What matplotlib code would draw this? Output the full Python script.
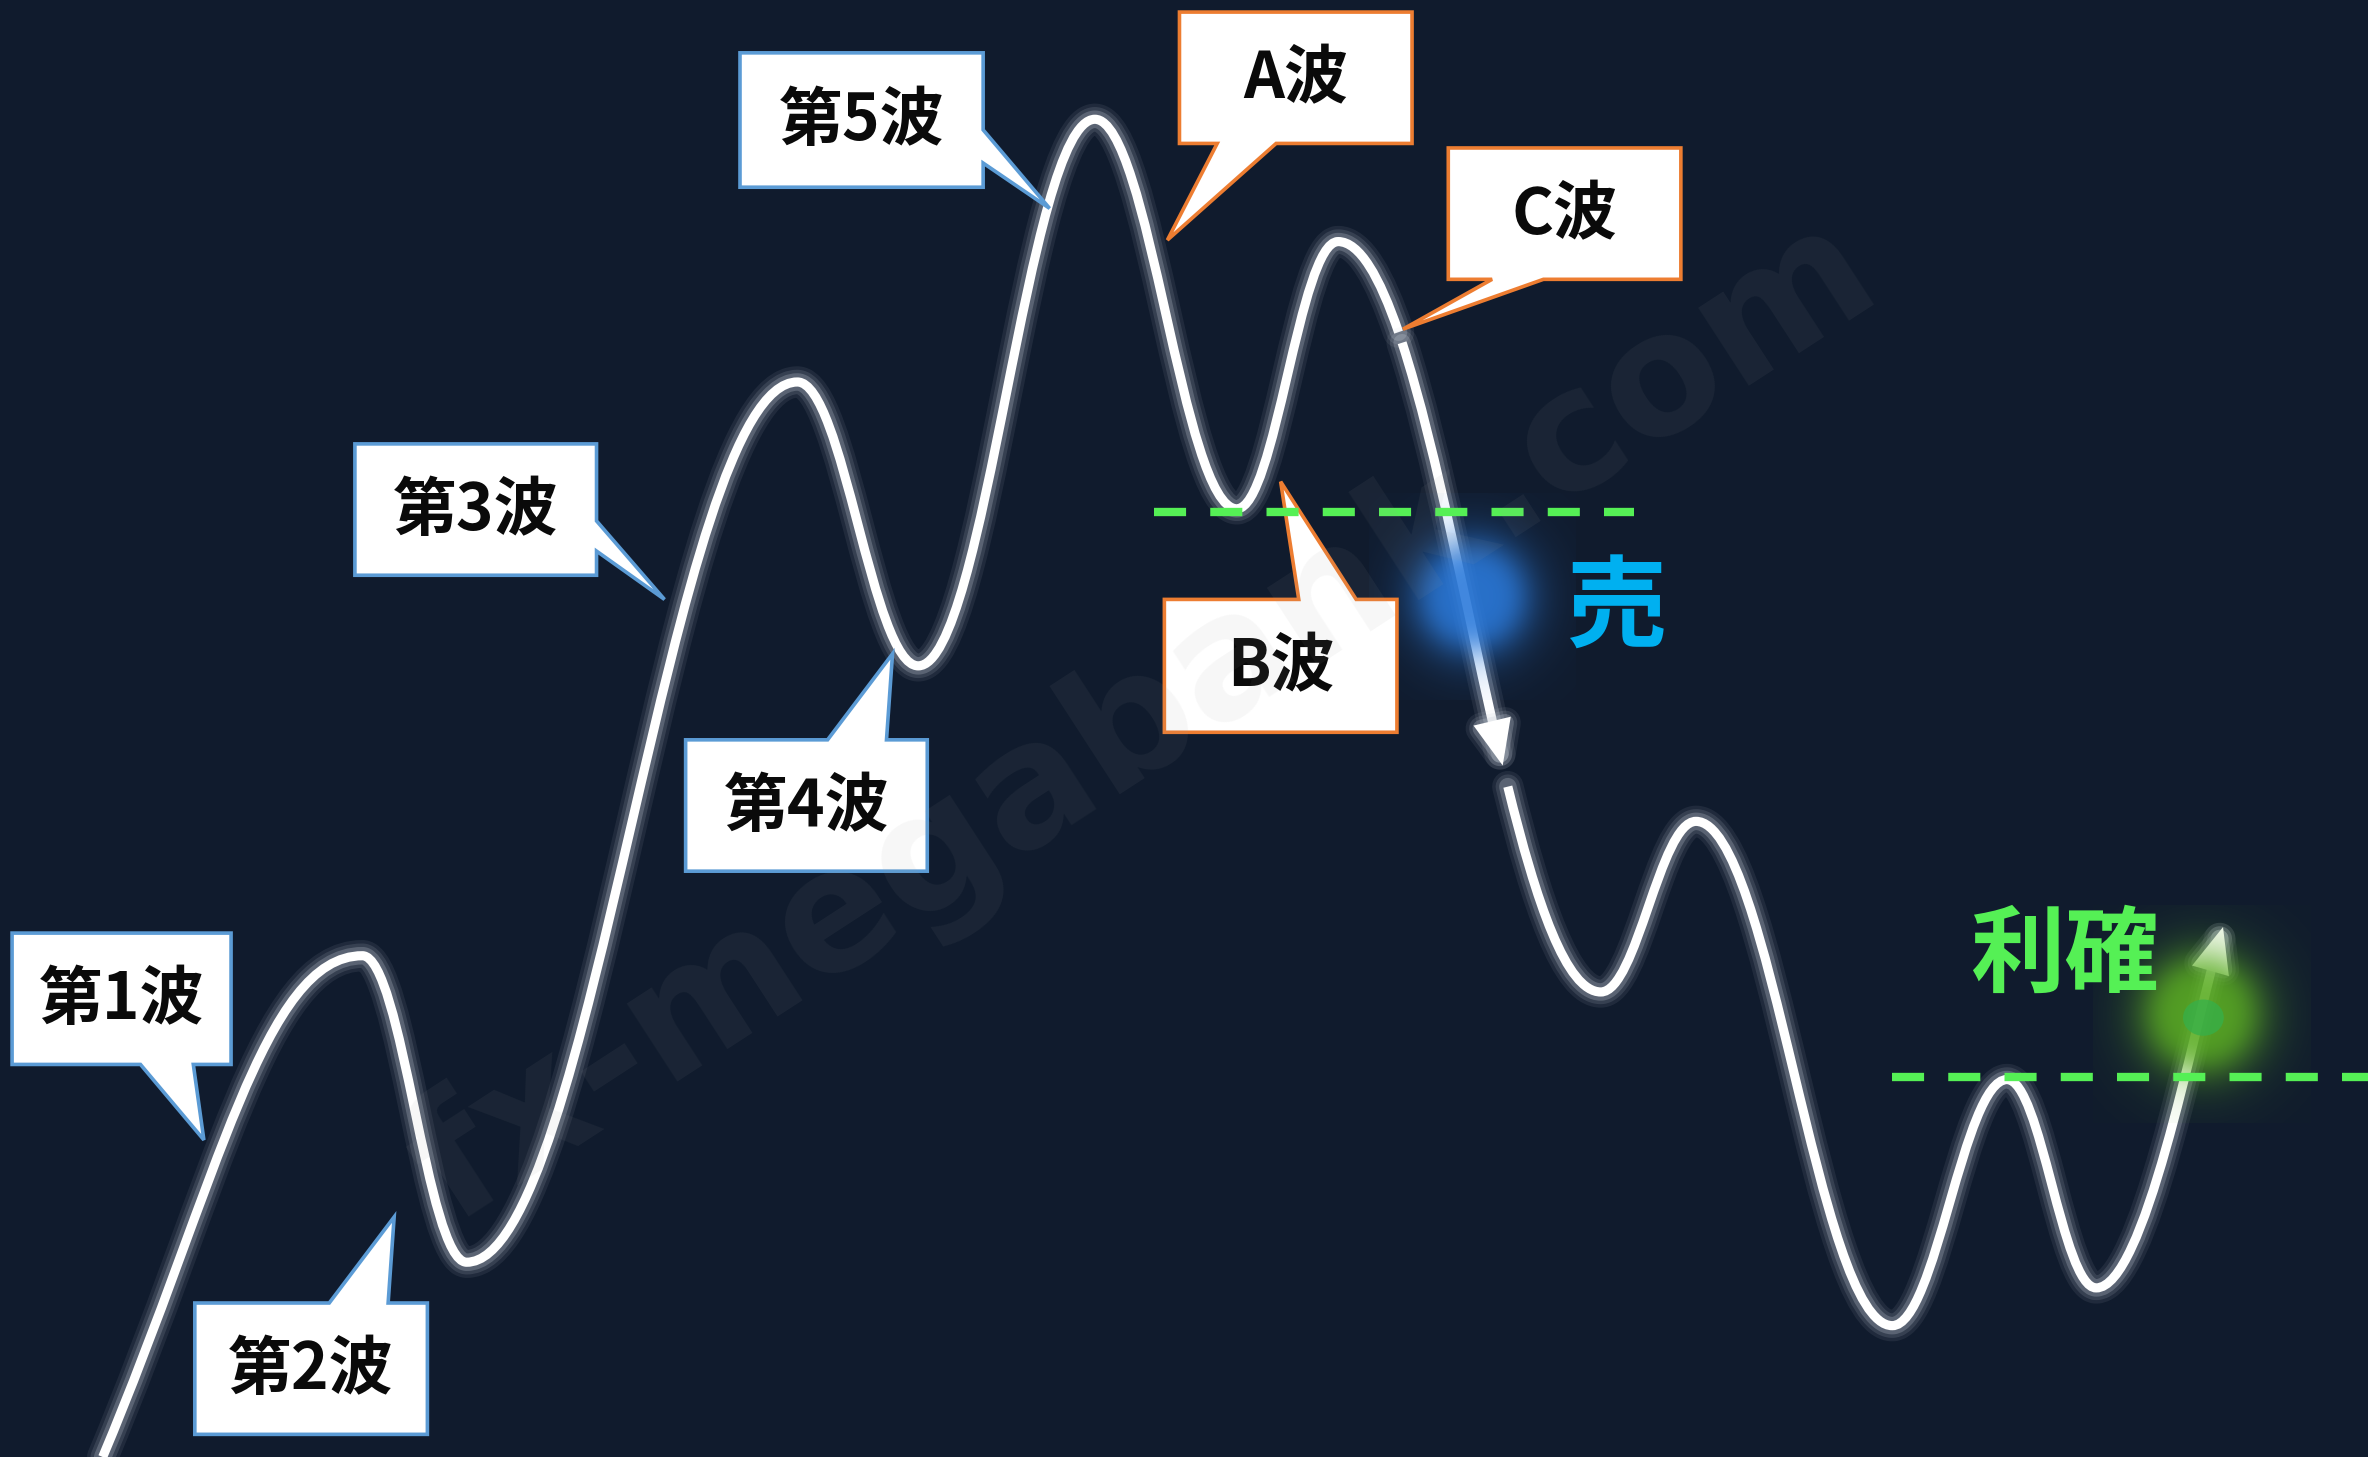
import numpy as np
import matplotlib
matplotlib.use("Agg")
import matplotlib.pyplot as plt
from matplotlib.path import Path
from matplotlib.patches import PathPatch, Polygon, FancyArrowPatch, Ellipse
from matplotlib.bezier import split_de_casteljau
import matplotlib.patheffects as pe

# ---------------- data (picture coordinates, y grows downward) ----------------
W, H = 1568, 965

# turning points of the wave
wave_x = [68, 240, 309, 528, 608, 725, 819, 886, 1060, 1123, 1253, 1329, 1388, 1472]
wave_y = [965, 633, 836, 253, 441, 79, 337, 160, 657, 544, 878, 715, 853, 614]
start_dir = (0.42, -1.0)
end_dir = (0.286, -1.0)

# breaks on the C wave (y values)
gap1_y = (220, 227)
sell_arrow_y = 507
resume_y = 521

# callouts
labels = ["第1波", "第2波", "第3波", "第4波", "第5波", "A波", "B波", "C波"]
box_x0 = [8, 129, 235, 454, 490, 781, 771, 959]
box_y0 = [618, 863, 294, 490, 35, 8, 397, 98]
box_x1 = [153, 283, 395, 614, 651, 935, 925, 1113]
box_y1 = [705, 950, 381, 577, 124, 95, 485, 185]
ptr_side = ["bottom", "top", "right", "top", "right", "bottom", "top", "bottom"]
ptr_a = [93, 218, 345, 548, 86, 806, 860, 988]
ptr_b = [128, 257, 365, 587, 108, 845, 898, 1022]
tip_x = [135, 261, 440, 591, 695, 773, 848, 929]
tip_y = [755, 806, 397, 433, 138, 159, 319, 218]
edge_colors = ["#5b9bd5"] * 5 + ["#ed7d31"] * 3

# dashed levels
dash_y = [339, 713]
dash_x0 = [764, 1253]
dash_x1 = [1082, 1568]

# signal labels
sell_label = "売"
sell_pos = (1070, 404)
take_label = "利確"
take_pos = (1367, 634)
sell_blob = (975, 395)
take_blob = (1458, 672)

watermark = "fx-megabank.com"
wm_pos = (758, 478)

# ---------------- style ----------------
BG = "#101b2d"
CJK = ["Noto Sans CJK JP", "DejaVu Sans"]
K = 0.38
LW = 6.6

fig = plt.figure(figsize=(23.68, 14.57), dpi=100)
fig.patch.set_facecolor(BG)
ax = fig.add_axes([0, 0, 1, 1])
ax.set_facecolor(BG)


def seg_ctrl(i):
    x0, y0, x1, y1 = wave_x[i], wave_y[i], wave_x[i + 1], wave_y[i + 1]
    dx, dy = x1 - x0, y1 - y0
    if i == 0:
        L = 0.55 * abs(dy)
        p1 = (x0 + start_dir[0] * L, y0 + start_dir[1] * L)
    else:
        p1 = (x0 + K * dx, y0)
    if i == len(wave_x) - 2:
        L = 0.30 * abs(dy)
        p2 = (x1 - end_dir[0] * L, y1 - end_dir[1] * L)
    else:
        p2 = (x1 - K * dx, y1)
    return np.array([(x0, y0), p1, p2, (x1, y1)], float)


def bez_y(c, t):
    return ((1 - t) ** 3) * c[0, 1] + 3 * (1 - t) ** 2 * t * c[1, 1] + 3 * (1 - t) * t ** 2 * c[2, 1] + t ** 3 * c[3, 1]


def t_for_y(c, y):
    lo, hi = 0.0, 1.0
    inc = c[3, 1] > c[0, 1]
    for _ in range(60):
        m = 0.5 * (lo + hi)
        if (bez_y(c, m) < y) == inc:
            lo = m
        else:
            hi = m
    return 0.5 * (lo + hi)


def sub(c, t1, t2):
    left, _ = split_de_casteljau(c, t2)
    if t1 <= 0:
        return np.array(left)
    _, right = split_de_casteljau(np.array(left), t1 / t2)
    return np.array(right)


def make_path(segs):
    verts = [segs[0][0]]
    codes = [Path.MOVETO]
    for s in segs:
        verts += [s[1], s[2], s[3]]
        codes += [Path.CURVE4] * 3
    return Path(np.array(verts), codes)


segs = [seg_ctrl(i) for i in range(len(wave_x) - 1)]
c_idx = 7
cseg = segs[c_idx]
tg1a = t_for_y(cseg, gap1_y[0])
tg1b = t_for_y(cseg, gap1_y[1])
tarr = t_for_y(cseg, sell_arrow_y)
tres = t_for_y(cseg, resume_y)

piece1 = segs[:c_idx] + [sub(cseg, 0, tg1a)]
piece2 = [sub(cseg, tg1b, tarr)]
piece3 = [sub(cseg, tres, 1.0)] + segs[c_idx + 1:]

glow = [
    pe.Stroke(linewidth=LW + 16, foreground="#c3cbd6", alpha=0.09, capstyle="round", joinstyle="round"),
    pe.Stroke(linewidth=LW + 11, foreground="#c3cbd6", alpha=0.14, capstyle="round", joinstyle="round"),
    pe.Stroke(linewidth=LW + 6, foreground="#c3cbd6", alpha=0.26, capstyle="round", joinstyle="round"),
    pe.Normal(),
]

p1 = PathPatch(make_path(piece1), fill=False, edgecolor="white", lw=LW, capstyle="butt",
               joinstyle="round", zorder=3, path_effects=glow)
ax.add_patch(p1)

head = "-|>,head_length=1.0,head_width=0.42"
arr1 = FancyArrowPatch(path=make_path(piece2), arrowstyle=head, mutation_scale=21,
                       color="white", lw=LW, joinstyle="miter", capstyle="butt",
                       zorder=3, path_effects=glow)
ax.add_patch(arr1)

arr2 = FancyArrowPatch(path=make_path(piece3), arrowstyle=head, mutation_scale=21,
                       color="white", lw=LW, joinstyle="miter", capstyle="butt",
                       zorder=3, path_effects=glow)
ax.add_patch(arr2)


# glow blobs
def blob(center, rgb, radius, amax, z):
    n = 241
    R = radius * 1.8
    g = np.linspace(-R, R, n)
    xx, yy = np.meshgrid(g, g)
    r = np.hypot(xx, yy)
    a = amax / (1 + (r / radius) ** 5)
    img = np.zeros((n, n, 4))
    img[..., 0], img[..., 1], img[..., 2] = rgb
    img[..., 3] = a
    cx, cy = center
    ax.imshow(img, extent=(cx - R, cx + R, cy + R, cy - R), interpolation="bilinear",
              zorder=z, aspect="auto")


blob(sell_blob, (0.17, 0.48, 0.86), 38, 0.9, 4)
blob(take_blob, (0.36, 0.68, 0.14), 40, 0.9, 4)
ax.add_patch(Ellipse((take_blob[0] + 1, take_blob[1] + 2), 27, 24, facecolor="#35b04a",
                     edgecolor="none", alpha=0.75, zorder=4.1))

# callouts
for i, lab in enumerate(labels):
    x0, y0, x1, y1 = box_x0[i], box_y0[i], box_x1[i], box_y1[i]
    a, b, tx, ty = ptr_a[i], ptr_b[i], tip_x[i], tip_y[i]
    if ptr_side[i] == "bottom":
        pts = [(x0, y0), (x1, y0), (x1, y1), (b, y1), (tx, ty), (a, y1), (x0, y1)]
    elif ptr_side[i] == "top":
        pts = [(x0, y0), (a, y0), (tx, ty), (b, y0), (x1, y0), (x1, y1), (x0, y1)]
    else:
        pts = [(x0, y0), (x1, y0), (x1, a), (tx, ty), (x1, b), (x1, y1), (x0, y1)]
    ax.add_patch(Polygon(pts, closed=True, facecolor="white", edgecolor=edge_colors[i],
                         lw=2.6, joinstyle="miter", zorder=5))
    ax.text((x0 + x1) / 2, (y0 + y1) / 2 + 1, lab, fontsize=46, fontweight="bold",
            family=CJK, color="#0a0a0a", ha="center", va="center", zorder=6)

# dashed levels
for y, xa, xb in zip(dash_y, dash_x0, dash_x1):
    ax.plot([xa, xb], [y, y], color="#55f055", lw=6, linestyle=(0, (3.85, 2.9)),
            solid_capstyle="butt", dash_capstyle="butt", zorder=7)

ax.text(*sell_pos, sell_label, fontsize=72, fontweight="bold", family=CJK, color="#00b0f0",
        ha="center", va="center", zorder=6)
ax.text(*take_pos, take_label, fontsize=68, fontweight="bold", family=CJK, color="#55f055",
        ha="center", va="center", zorder=6)

ax.text(*wm_pos, watermark, fontsize=122, fontweight="bold", family=["DejaVu Sans"],
        color="#9d9d9d", alpha=0.08, rotation=33, rotation_mode="anchor",
        ha="center", va="center", zorder=20)

ax.set_xlim(0, W)
ax.set_ylim(H, 0)
ax.axis("off")
fig.savefig("out.png", dpi=100, facecolor=BG)
